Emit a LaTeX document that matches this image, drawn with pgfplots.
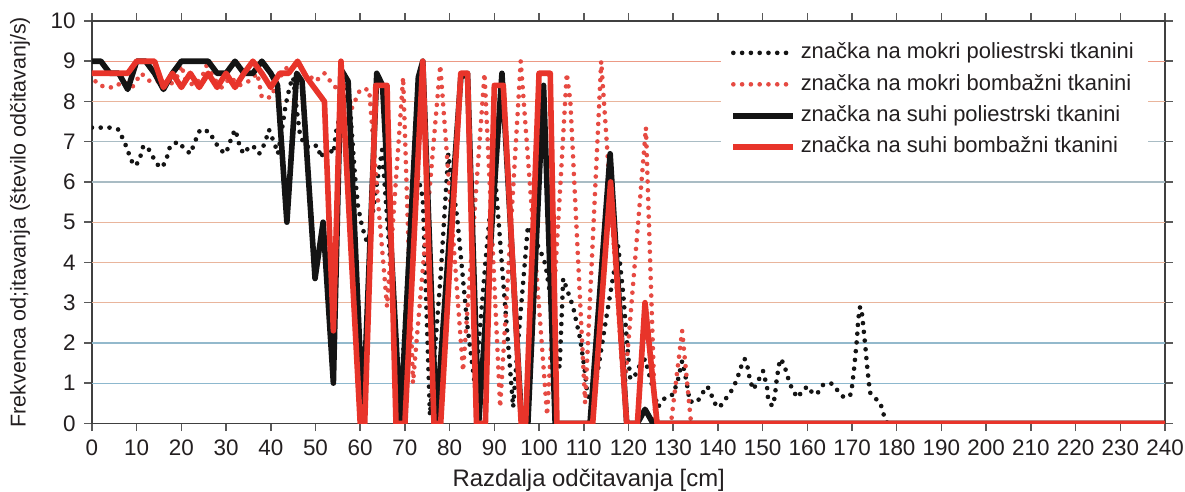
\documentclass[border=0pt]{standalone}
\usepackage{fontspec}
\setmainfont{Liberation Sans}
\usepackage{pgfplots}
\pgfplotsset{compat=1.18}
\definecolor{cred}{HTML}{E8342A}
\definecolor{cdred}{HTML}{E64A42}
\definecolor{cblk}{HTML}{141414}
\definecolor{txt}{HTML}{231F20}
\definecolor{gblue}{HTML}{8DB8CE}
\definecolor{gorange}{HTML}{E9B59C}
\definecolor{ggray}{HTML}{A9BCC4}

\tikzset{
  wetline/.style={line width=1.9pt, line cap=round, dash pattern=on 0pt off 3.6pt},
  dryline/.style={line width=2.3pt, line join=round},
}

\begin{document}
\begin{tikzpicture}
\begin{axis}[
  scale only axis,
  width=440pt, height=165pt,
  xmin=0, xmax=240, ymin=0, ymax=10,
  xtick distance=10, ytick distance=1,
  tick align=outside, major tick length=3.2pt,
  tick style={black!65, line width=0.6pt},
  axis line style={black!75, line width=0.7pt},
  ticklabel style={text=txt, font=\fontsize{9.2}{10}\selectfont},
  /pgf/number format/assume math mode=true,
  xlabel={Razdalja odčitavanja [cm]},
  ylabel={Frekvenca od;itavanja (število odčitavanj/s)},
  every axis x label/.style={at={(rel axis cs:0.463,0)}, yshift=-23.4pt, anchor=center,
    text=txt, font=\fontsize{9.8}{11}\selectfont},
  every axis y label/.style={at={(rel axis cs:0,0.5)}, xshift=-29.5pt, anchor=center,
    rotate=90, text=txt, font=\fontsize{8.8}{10}\selectfont},
  legend style={draw=none, fill=white, at={(0.985,0.975)}, anchor=north east,
    row sep=1.4pt, font=\fontsize{9}{10}\selectfont, text=txt,
    nodes={text height=6.6pt, text depth=1.9pt, inner ysep=1.5pt},
    inner xsep=4pt, inner ysep=3pt},
  legend cell align=left,
  legend image code/.code={\draw[#1] (0pt,0pt) -- (24.5pt,0pt);},
]
% grid lines
\draw[gblue, line width=0.5pt] (axis cs:0,1) -- (axis cs:240,1);
\draw[gblue!80!ggray, line width=0.5pt] (axis cs:0,2) -- (axis cs:240,2);
\draw[gorange, line width=0.5pt] (axis cs:0,3) -- (axis cs:240,3);
\draw[gorange, line width=0.5pt] (axis cs:0,4) -- (axis cs:240,4);
\draw[gorange, line width=0.5pt] (axis cs:0,5) -- (axis cs:240,5);
\draw[ggray, line width=0.5pt] (axis cs:0,6) -- (axis cs:240,6);
\draw[ggray, line width=0.5pt] (axis cs:0,7) -- (axis cs:240,7);
\draw[gorange, line width=0.5pt] (axis cs:0,8) -- (axis cs:240,8);
\draw[gorange!85!red, line width=0.5pt] (axis cs:0,9) -- (axis cs:240,9);

% znacka na mokri poliestrski tkanini
\addplot[cblk, wetline] coordinates {
(0,7.35)(2,7.35)(4,7.35)(6,7.3)(7,7.05)(8,6.8)(8.5,6.6)(9.5,6.4)(10.5,6.5)(11.5,6.9)
(12.5,6.85)(13.5,6.65)(14.5,6.45)(15.5,6.35)(16.5,6.5)(17,6.7)(17.5,6.9)(19.3,7.0)
(20.5,6.85)(22,6.7)(22.7,6.9)(23.4,7.1)(24.2,7.3)(26.3,7.25)(27.2,7.05)(28.4,6.85)
(29.7,6.7)(30.5,6.85)(31.2,7.1)(32,7.3)(32.6,7.1)(33.1,6.85)(34,6.7)(35,6.85)(36,6.9)
(37.4,6.7)(38.2,6.85)(38.9,7.05)(39.6,7.3)(40.3,7.1)(41,6.9)(41.6,6.7)(42.5,7.3)
(43.3,7.9)(44.3,8.4)(45,8.6)(45.8,7.8)(46.5,7.2)(47.2,7.0)(48.5,6.85)(49.5,6.9)
(50.5,6.9)(51.2,6.6)(52.5,6.9)(54,6.7)(54.8,7.4)(55.9,7.7)(57.3,8.5)(58.8,6.2)
(59.5,5.4)(60.4,4.9)(61.5,4.5)(62.2,4.7)(63.5,5.8)(64.9,6.8)(67,3.6)(68.9,0.3)
(70.5,3.5)(72,6.6)(74,5.6)(75.6,0.2)(78,3.7)(79.7,6.7)(81.7,5.1)(84,2.4)(85.7,0.9)
(88,4.0)(90,6.4)(92,3.5)(94.2,0.4)(95,1.6)(97.5,4.9)(99.8,4.4)(101,4.1)(101.5,3.9)
(102.4,3.25)(104,1.6)(104.6,1.4)(105.4,3.6)(107.6,2.9)(109.2,2.1)(110.3,1.25)
(110.8,0.7)(112,0.5)(115,2.6)(117.7,4.4)(118.8,3.25)(119.6,2.1)(120.4,1.1)(121.5,1.2)
(122.3,1.4)(123.7,1.6)(126.6,0.4)(127,0.47)(128.2,0.64)(130,0.72)(131.1,1.1)(132,1.55)
(132.7,1.2)(133.4,0.77)(133.6,0.55)(135.3,0.52)(136.4,0.72)(137.5,0.92)(138.1,0.85)
(138.9,0.6)(139.8,0.4)(140.5,0.42)(142,0.65)(143.2,0.84)(144.1,1.05)(144.8,1.27)
(145.6,1.55)(146,1.6)(146.8,1.34)(147.1,1.1)(147.9,0.84)(149.2,1.1)(150.1,1.3)
(151,0.9)(151.2,0.64)(152.1,0.43)(152.7,0.64)(153.2,1.14)(153.9,1.6)(154.7,1.5)
(155.9,1.05)(156.8,0.8)(157.9,0.64)(159,0.84)(160.2,0.92)(161.3,0.72)(162.4,0.77)
(163.6,0.97)(165.5,0.99)(166.9,0.8)(168.2,0.64)(169.6,0.7)(170,0.92)(170.5,1.4)
(171.1,2.1)(171.4,2.6)(171.8,2.9)(172.2,2.75)(172.9,2.0)(173.4,1.4)(174,0.77)
(175.2,0.62)(176.3,0.52)(176.9,0.28)(177.6,0.05)(178,0)(240,0)
};
\addlegendentry{značka na mokri poliestrski tkanini}

% znacka na mokri bombazni tkanini
\addplot[cdred, wetline] coordinates {
(0,8.7)(1,8.45)(3,8.35)(5,8.35)(7,8.5)(9,8.35)(11,8.7)(13,8.5)(15,8.5)(17,8.35)
(19,8.6)(20,8.9)(21,8.5)(23,8.4)(25,8.7)(26,9.0)(27,8.6)(29,8.35)(31,8.6)(33,8.4)
(35,8.5)(37,8.7)(38,8.1)(40,8.1)(42,8.6)(44,8.9)(46,8.6)(48,8.7)(50,8.5)(52,8.7)
(54,8.4)(56,8.2)(57,8.5)(58,7.8)(60,8.3)(62,8.3)(64,5.5)(66,2.9)(69.6,8.6)(71.8,1.0)
(77.9,8.9)(83,1.3)(87.8,8.7)(91.3,0.4)(95.9,9.0)(101.8,0.2)(106.2,8.7)(107,8.0)
(110.3,0.5)(113.9,9.0)(119,0.7)(123.9,7.35)(126,0)(129.5,0)(132,2.3)(134,0)(240,0)
};
\addlegendentry{značka na mokri bombažni tkanini}

% znacka na suhi poliestrski tkanini
\addplot[cblk, dryline] coordinates {
(0,9)(2,9)(4,8.7)(6,8.7)(8,8.3)(10,9)(12,9)(14,8.7)(16,8.3)(18,8.7)(20,9)(22,9)
(24,9)(26,9)(28,8.7)(30,8.7)(32,9)(34,8.7)(36,8.7)(38,9)(40,8.7)(41.5,8.4)
(43.6,5.0)(45.8,8.7)(47,8.5)(49.9,3.6)(51.7,5.0)(54,1.0)(55.7,8.8)(57.3,8.5)
(60.6,0.1)(63.7,8.7)(65,8.4)(69,0)(73,8.6)(74,9)(77,0)(82.5,8.6)(84,8.7)(86.5,0)
(91.7,8.7)(96,0.2)(97.5,0)(101,8.4)(103.6,0)(111.4,0)(115.9,6.7)(119.6,0)(122,0)
(123.7,0.35)(125.5,0)(240,0)
};
\addlegendentry{značka na suhi poliestrski tkanini}

% znacka na suhi bombazni tkanini
\addplot[cred, dryline] coordinates {
(0,8.7)(2,8.7)(4,8.7)(6,8.7)(8,8.7)(10,9)(12,9)(14,9)(16,8.35)(18,8.7)(20,8.35)
(22,8.7)(24,8.35)(26,8.7)(28,8.35)(30,8.7)(32,8.35)(34,8.7)(36,9)(38,8.7)(40,8.35)
(42,8.7)(44,8.7)(46,9)(48,8.6)(50,8.3)(52,8.0)(54,2.3)(55.7,9.0)(60,0)(61,0)
(63.5,8.4)(66,8.4)(68,0)(70,0)(74,9)(76.5,0)(78,0)(82.5,8.7)(84,8.7)(86,0)(88,0)
(90,8.4)(92,8.4)(96,0)(97,0)(100,8.7)(102.5,8.7)(104,0)(112,0)(116,6.0)(119.6,0)
(122,0)(123.7,3.0)(126.4,0)(240,0)
};
\addlegendentry{značka na suhi bombažni tkanini}
\end{axis}
\pgfresetboundingbox
\path[use as bounding box] ([shift={(-37.7pt,-27.9pt)}]current axis.south west)
  rectangle ([shift={(8.2pt,8.6pt)}]current axis.north east);
\end{tikzpicture}
\end{document}
